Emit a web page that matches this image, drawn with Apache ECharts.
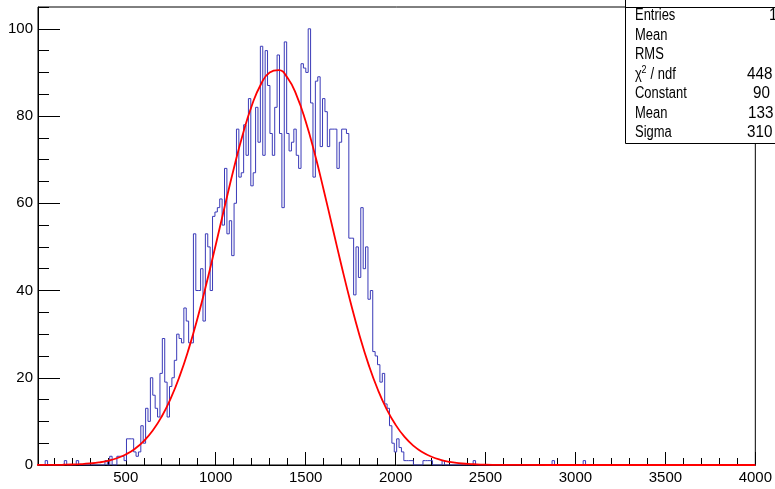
<!DOCTYPE html>
<html><head><meta charset="utf-8">
<script src="https://cdn.jsdelivr.net/npm/echarts@6/dist/echarts.min.js"></script>
<style>html,body{margin:0;padding:0;background:#fff}#c{width:775px;height:489px}</style>
</head><body><div id="c"></div>
<script>
// ---- data ----
const histStart = 12;      // lower edge of the histogram range
const histEnd = 4000;      // upper edge of the histogram range
const histCounts = [
  0,0,0,1,0,0,0,0,0,0,
  0,1,0,0,0,0,1,0,0,0,
  0,0,0,0,0,0,0,0,1,0,
  2,0,0,2,2,2,1,6,6,6,
  3,2,3,9,5,13,10,20,16,13,
  11,21,29,19,11,18,20,24,30,29,
  28,36,33,28,28,53,40,40,45,33,
  53,50,40,57,58,59,61,55,68,53,
  56,48,60,77,66,67,78,71,84,64,
  67,82,74,96,71,95,87,76,71,82,
  94,76,59,97,76,72,74,77,71,68,
  92,91,90,100,83,66,88,89,73,84,
  81,73,77,77,77,68,74,77,77,76,
  52,52,39,50,43,59,45,50,38,40,
  26,25,23,19,21,14,13,9,5,3,
  6,4,3,1,1,1,1,0,0,0,
  0,1,1,1,1,0,0,0,0,1,
  0,0,0,0,0,0,0,0,0,0,
  0,0,1,0,0,0,0,0,0,0,
  0,0,0,0,0,0,0,0,0,0,
  0,0,0,0,0,0,0,0,0,0,
  0,0,0,0,0,1,0,0,0,0,
  0,0,0,0,0,0,0,0,1,0,
  0,0,0,0,0,0,0,0,0,0,
  0,0,0,0,0,0,0,0,0,0,
  0,0,0,0,0,0,0,0,0,0,
  0,0,0,0,0,0,0,0,0,0,
  0,0,0,0,0,0,0,0,0,0,
  0,0,0,0,0,0,0,0,0,0,
  0,0,0,0,0,0,0,0,0,0
];
const fitX = [0,50,100,150,200,250,300,350,400,450,500,550,600,650,700,750,800,850,900,950,
  1000,1050,1100,1150,1200,1250,1300,1350,1400,1450,1500,1550,1600,1650,1700,1750,1800,1850,1900,1950,
  2000,2050,2100,2150,2200,2250,2300,2350,2400,2450,2500,2550,2600,2650,2700,3000,3500,4000];
const fitY = [0.01,0.02,0.03,0.06,0.11,0.2,0.35,0.58,0.96,1.55,2.42,3.68,5.46,7.89,11.12,15.27,20.42,26.62,33.8,41.83,
  50.44,59.27,67.87,75.73,82.31,87.18,89.99,90.51,88.7,84.7,78.8,71.45,63.12,54.33,45.57,37.24,29.66,23.02,17.42,12.83,
  9.21,6.44,4.39,2.92,1.89,1.19,0.73,0.44,0.26,0.15,0.08,0.04,0.02,0.01,0.01,0,0,0];
const xMajorTicks = [500,1000,1500,2000,2500,3000,3500,4000];
const xMinorTicks = [100,200,300,400,600,700,800,900,1100,1200,1300,1400,1600,1700,1800,1900,
  2100,2200,2300,2400,2600,2700,2800,2900,3100,3200,3300,3400,3600,3700,3800,3900];
const yMajorTicks = [0,20,40,60,80,100];
const yMinorTicks = [5,10,15,25,30,35,45,50,55,65,70,75,85,90,95,105];
const statsTitle = 'GEM 1';
const statsLabels = ['Entries','Mean','RMS','χ','Constant','Mean','Sigma'];
const statsValues = ['1','','','448','90','133','310'];

// ---- build ----
const nBins = histCounts.length;
const binW = (histEnd - histStart) / nBins;
const histData = histCounts.map((v, i) => [histStart + i * binW, v]);
histData.push([histEnd, histCounts[nBins - 1]]);
const fitData = fitX.map((x, i) => [x, fitY[i]]);

const FONT = '"Liberation Sans", Arial, Helvetica, sans-serif';
const chart = echarts.init(document.getElementById('c'));

const rowY = [16, 35.5, 55, 74.5, 94, 113.5, 133];
const valueX = [769, 0, 0, 747, 753, 748, 747];
const LBL_FONT = '16px ' + FONT;
const LBL_SX = 0.81;
const graphics = [
  {type:'rect', z:100, shape:{x:625.5, y:-2, width:200, height:145.5},
   style:{fill:'#fff', stroke:'#000', lineWidth:1}},
  {type:'line', z:101, shape:{x1:625, y1:7.5, x2:775, y2:7.5},
   style:{stroke:'#000', lineWidth:1}},
  {type:'text', z:102, x:729, y:4, scaleX:LBL_SX,
   style:{text:statsTitle, font:LBL_FONT, fill:'#000', textAlign:'center', align:'center', textVerticalAlign:'bottom', verticalAlign:'bottom'}}
];
statsLabels.forEach((t, i) => {
  graphics.push({type:'text', z:102, x:635, y:rowY[i], scaleX:LBL_SX,
    style:{text:t, font:LBL_FONT, fill:'#000', textVerticalAlign:'middle', verticalAlign:'middle'}});
  if (statsValues[i]) {
    graphics.push({type:'text', z:102, x:valueX[i], y:rowY[i], scaleX:0.95,
      style:{text:statsValues[i], font:LBL_FONT, fill:'#000', textVerticalAlign:'middle', verticalAlign:'middle'}});
  }
});
// superscript and rest of chi2/ndf label
graphics.push({type:'text', z:102, x:641.5, y:rowY[3] - 5, scaleX:LBL_SX,
  style:{text:'2', font:'11px ' + FONT, fill:'#000', textVerticalAlign:'middle', verticalAlign:'middle'}});
graphics.push({type:'text', z:102, x:647, y:rowY[3], scaleX:LBL_SX,
  style:{text:' / ndf', font:LBL_FONT, fill:'#000', textVerticalAlign:'middle', verticalAlign:'middle'}});

const plain = v => String(v);
chart.setOption({
  animation:false,
  backgroundColor:'#fff',
  grid:{left:38, top:7, right:17, bottom:24, show:true, borderColor:'#000', borderWidth:1, backgroundColor:'rgba(0,0,0,0)'},
  xAxis:[
    {type:'value', min:histStart, max:histEnd,
     axisLine:{show:true, onZero:false, lineStyle:{color:'#000', width:1}},
     axisTick:{show:true, inside:true, length:13, customValues:xMajorTicks, lineStyle:{color:'#000'}},
     axisLabel:{customValues:xMajorTicks, formatter:plain, color:'#000', fontSize:15, fontFamily:FONT, margin:5},
     splitLine:{show:false}},
    {type:'value', min:histStart, max:histEnd, position:'bottom',
     axisLine:{show:false, onZero:false},
     axisTick:{show:true, inside:true, length:7, customValues:xMinorTicks, lineStyle:{color:'#000'}},
     axisLabel:{show:false}, splitLine:{show:false}}
  ],
  yAxis:[
    {type:'value', min:0, max:105,
     axisLine:{show:true, onZero:false, lineStyle:{color:'#000', width:1}},
     axisTick:{show:true, inside:true, length:22, customValues:yMajorTicks, lineStyle:{color:'#000'}},
     axisLabel:{customValues:yMajorTicks, formatter:plain, color:'#000', fontSize:15, fontFamily:FONT, margin:5},
     splitLine:{show:false}},
    {type:'value', min:0, max:105, position:'left',
     axisLine:{show:false, onZero:false},
     axisTick:{show:true, inside:true, length:11, customValues:yMinorTicks, lineStyle:{color:'#000'}},
     axisLabel:{show:false}, splitLine:{show:false}}
  ],
  series:[
    {type:'line', name:'GEM 1', xAxisIndex:0, yAxisIndex:0, data:histData, step:'end',
     symbol:'none', clip:true, lineStyle:{color:'#3a3ab8', width:1}, z:3},
    {type:'line', name:'fit', xAxisIndex:0, yAxisIndex:0, data:fitData, smooth:true,
     symbol:'none', clip:true, lineStyle:{color:'#ff0000', width:1.8}, z:4}
  ],
  graphic:graphics
});
</script>
</body></html>
